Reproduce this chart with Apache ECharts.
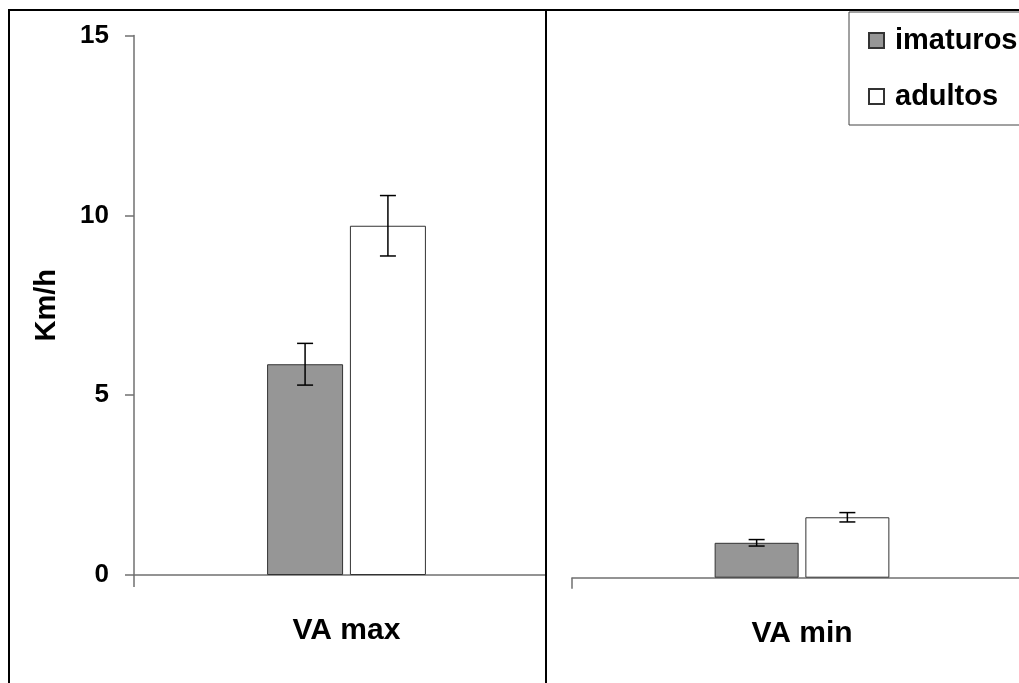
<!DOCTYPE html>
<html>
<head>
<meta charset="utf-8">
<script src="https://cdn.jsdelivr.net/npm/echarts@6/dist/echarts.min.js"></script>
<style>
  html, body { margin: 0; padding: 0; background: #fff; overflow: hidden; }
  /* the canvas runs a little past the right edge of the window, so the second panel is cut off there */
  #chart { width: 1032px; height: 683px; }
</style>
</head>
<body>
<div id="chart"></div>
<script>
// Speeds (Km/h) of immature and adult individuals: mean and error
const seriesNames = ['imaturos', 'adultos'];
const categoriesMax = ['VA max'];
const categoriesMin = ['VA min'];
const imaturosMax = [5.86];
const adultosMax = [9.71];
const imaturosMaxErr = [0.58];
const adultosMaxErr = [0.84];
const imaturosMin = [0.97];
const adultosMin = [1.68];
const imaturosMinErr = [0.09];
const adultosMinErr = [0.13];
const yTicks = [0, 5, 10, 15];

const FONT = '"Liberation Sans", Arial, sans-serif';
const GRAY = '#969696';
const EDGE = '#333333';
const AXIS = '#707070';

// bar sizing per panel
const barMaxWidth = 76, barMaxGap = 0.09;
const barMinWidth = 84, barMinGap = 0.08;

function errorSeries(xi, yi, means, errs, barW, gapPct, side) {
  const data = means.map((m, i) => [i, m - errs[i], m + errs[i]]);
  const shift = side * (barW + barW * gapPct) / 2;
  return {
    type: 'custom',
    xAxisIndex: xi,
    yAxisIndex: yi,
    z: 8,
    silent: true,
    encode: { x: 0, y: [1, 2] },
    data: data,
    renderItem: function (params, api) {
      const lo = api.coord([api.value(0), api.value(1)]);
      const hi = api.coord([api.value(0), api.value(2)]);
      const x = lo[0] + shift;
      const cap = 8;
      const st = { stroke: '#000', lineWidth: 1.5 };
      return {
        type: 'group',
        children: [
          { type: 'line', shape: { x1: x, y1: lo[1], x2: x, y2: hi[1] }, style: st },
          { type: 'line', shape: { x1: x - cap, y1: lo[1], x2: x + cap, y2: lo[1] }, style: st },
          { type: 'line', shape: { x1: x - cap, y1: hi[1], x2: x + cap, y2: hi[1] }, style: st }
        ]
      };
    }
  };
}

const chart = echarts.init(document.getElementById('chart'), null, { renderer: 'canvas' });

const option = {
  backgroundColor: '#fff',
  animation: false,
  textStyle: { fontFamily: FONT },
  legend: {
    data: seriesNames,
    orient: 'vertical',
    left: 849,
    top: 12,
    padding: [14, 40, 14, 19],
    itemGap: 27,
    itemWidth: 15,
    itemHeight: 15,
    icon: 'rect',
    borderColor: '#444',
    borderWidth: 1,
    backgroundColor: '#fff',
    z: 9,
    textStyle: { fontFamily: FONT, fontWeight: 'bold', fontSize: 29, color: '#000', padding: [0, 0, 0, 6] },
    selectedMode: false
  },
  grid: [
    { left: 134, top: 35.5, width: 425, bottom: 108, containLabel: false },
    { left: 572, top: 38.2, width: 460, bottom: 105.3, containLabel: false }
  ],
  xAxis: [
    {
      type: 'category', gridIndex: 0, data: categoriesMax,
      axisLine: { show: true, lineStyle: { color: AXIS, width: 1.5 } },
      axisTick: { show: true, length: 12, lineStyle: { color: AXIS, width: 1.5 } },
      axisLabel: { fontFamily: FONT, fontWeight: 'bold', fontSize: 30, color: '#000', margin: 41 },
      z: 0
    },
    {
      type: 'category', gridIndex: 1, data: categoriesMin,
      axisLine: { show: true, lineStyle: { color: AXIS, width: 1.5 } },
      axisTick: { show: true, length: 11, lineStyle: { color: AXIS, width: 1.5 } },
      axisLabel: { fontFamily: FONT, fontWeight: 'bold', fontSize: 30, color: '#000', margin: 41 },
      z: 5
    }
  ],
  yAxis: [
    {
      type: 'value', gridIndex: 0, min: yTicks[0], max: yTicks[yTicks.length - 1], interval: 5,
      name: 'Km/h', nameLocation: 'middle', nameGap: 73, nameRotate: 90,
      nameTextStyle: { fontFamily: FONT, fontWeight: 'bold', fontSize: 29, color: '#000' },
      axisLine: { show: true, lineStyle: { color: AXIS, width: 1.5 } },
      axisTick: { show: true, length: 9, lineStyle: { color: AXIS, width: 1.5 } },
      axisLabel: { fontFamily: FONT, fontWeight: 'bold', fontSize: 26, color: '#000', margin: 25 },
      splitLine: { show: false }
    },
    {
      type: 'value', gridIndex: 1, min: yTicks[0], max: yTicks[yTicks.length - 1], interval: 5,
      show: false
    }
  ],
  graphic: [
    // second panel backdrop
    { type: 'rect', z: 1, shape: { x: 547, y: 11, width: 500, height: 680 }, style: { fill: '#fff' }, silent: true },
    // panel frames
    { type: 'line', z: 20, shape: { x1: 8, y1: 10, x2: 1032, y2: 10 }, style: { stroke: '#000', lineWidth: 2 } },
    { type: 'line', z: 20, shape: { x1: 9, y1: 10, x2: 9, y2: 683 }, style: { stroke: '#000', lineWidth: 2 } },
    { type: 'line', z: 20, shape: { x1: 546, y1: 10, x2: 546, y2: 683 }, style: { stroke: '#000', lineWidth: 2 } }
  ],
  series: [
    {
      name: seriesNames[0], type: 'bar', xAxisIndex: 0, yAxisIndex: 0, data: imaturosMax,
      barWidth: barMaxWidth, barGap: (barMaxGap * 100) + '%', z: 2,
      itemStyle: { color: GRAY, borderColor: EDGE, borderWidth: 1 }
    },
    {
      name: seriesNames[1], type: 'bar', xAxisIndex: 0, yAxisIndex: 0, data: adultosMax,
      barWidth: barMaxWidth, barGap: (barMaxGap * 100) + '%', z: 2,
      itemStyle: { color: '#fff', borderColor: EDGE, borderWidth: 1 }
    },
    {
      name: seriesNames[0], type: 'bar', xAxisIndex: 1, yAxisIndex: 1, data: imaturosMin,
      barWidth: barMinWidth, barGap: (barMinGap * 100) + '%', z: 6,
      itemStyle: { color: GRAY, borderColor: EDGE, borderWidth: 1 }
    },
    {
      name: seriesNames[1], type: 'bar', xAxisIndex: 1, yAxisIndex: 1, data: adultosMin,
      barWidth: barMinWidth, barGap: (barMinGap * 100) + '%', z: 6,
      itemStyle: { color: '#fff', borderColor: EDGE, borderWidth: 1 }
    },
    errorSeries(0, 0, imaturosMax, imaturosMaxErr, barMaxWidth, barMaxGap, -1),
    errorSeries(0, 0, adultosMax, adultosMaxErr, barMaxWidth, barMaxGap, 1),
    errorSeries(1, 1, imaturosMin, imaturosMinErr, barMinWidth, barMinGap, -1),
    errorSeries(1, 1, adultosMin, adultosMinErr, barMinWidth, barMinGap, 1)
  ]
};

chart.setOption(option);
</script>
</body>
</html>
